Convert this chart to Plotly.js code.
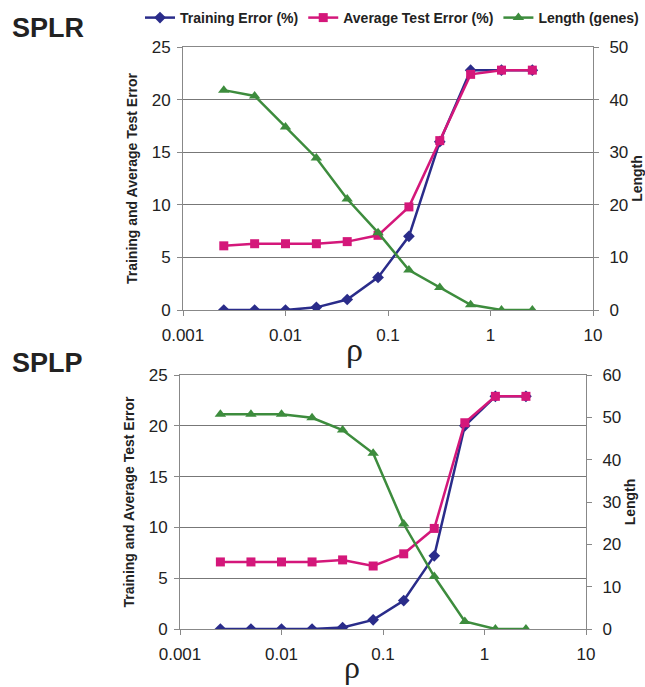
<!DOCTYPE html>
<html><head><meta charset="utf-8">
<script src="https://cdn.plot.ly/plotly-3.0.1.min.js"></script>
<style>html,body{margin:0;padding:0;background:#fff;}#chart{width:645px;height:687px;}</style>
</head><body><div id="chart"></div>
<script>
// rho values (shared by both panels)
const rho = [0.0025, 0.005, 0.01, 0.02, 0.04, 0.08, 0.16, 0.32, 0.64, 1.28, 2.56];
// SPLR panel
const splrTrain = [0, 0, 0, 0.25, 1.0, 3.1, 7.0, 16.0, 22.8, 22.8, 22.8];
const splrTest  = [6.1, 6.3, 6.3, 6.3, 6.5, 7.1, 9.8, 16.1, 22.4, 22.8, 22.8];
const splrLen   = [41.8, 40.7, 34.8, 28.9, 21.1, 14.7, 7.6, 4.3, 1.0, 0, 0];
// SPLP panel
const splpTrain = [0, 0, 0, 0, 0.15, 0.9, 2.8, 7.2, 20.0, 22.9, 22.9];
const splpTest  = [6.6, 6.6, 6.6, 6.6, 6.8, 6.2, 7.4, 9.9, 20.3, 22.9, 22.9];
const splpLen   = [50.7, 50.7, 50.7, 49.9, 47.0, 41.5, 24.8, 12.4, 1.8, 0, 0];
// labels
const seriesNames = ['Training Error (%)', 'Average Test Error (%)', 'Length (genes)'];
const xTickVals = [0.001, 0.01, 0.1, 1, 10];
const xTickText = ['0.001', '0.01', '0.1', '1', '10'];

const cBlue = '#2a2c8a', cPink = '#d4177a', cGreen = '#3d8c3d';
const FONT = 'Arial, "Liberation Sans", sans-serif';

function tr(x, y, name, color, symbol, size, xa, ya, show) {
  return {x: x, y: y, name: '<b>' + name + '</b>', type: 'scatter', mode: 'lines+markers',
    line: {color: color, width: 2.5}, marker: {color: color, symbol: symbol, size: size},
    xaxis: xa, yaxis: ya, showlegend: show};
}

const data = [
  tr(rho, splrTrain, seriesNames[0], cBlue, 'diamond', 9, 'x', 'y', true),
  tr(rho, splrTest, seriesNames[1], cPink, 'square', 9, 'x', 'y', true),
  tr(rho, splrLen, seriesNames[2], cGreen, 'triangle-up', 10, 'x', 'y2', true),
  tr(rho, splpTrain, seriesNames[0], cBlue, 'diamond', 9, 'x2', 'y3', false),
  tr(rho, splpTest, seriesNames[1], cPink, 'square', 9, 'x2', 'y3', false),
  tr(rho, splpLen, seriesNames[2], cGreen, 'triangle-up', 10, 'x2', 'y4', false)
];

const W = 645, H = 687;
const px = v => v / W, py = v => 1 - v / H;

function xax(dom, anchor) {
  return {domain: dom, anchor: anchor, type: 'log', range: [-3, 1],
    tickvals: xTickVals, ticktext: xTickText, ticks: 'outside', ticklen: 5, tickcolor: '#888',
    ticklabelstandoff: 5,
    showline: true, linecolor: '#888', linewidth: 1, mirror: true, showgrid: false, zeroline: false,
    tickfont: {size: 17, color: '#222', family: FONT}};
}
function yleft(dom, anchor) {
  return {domain: dom, anchor: anchor, range: [0, 25], dtick: 5, ticks: 'outside', ticklen: 5,
    tickcolor: '#888', ticklabelstandoff: 3, showline: true, linecolor: '#888', showgrid: true, gridcolor: '#777',
    gridwidth: 1, zeroline: false, tickfont: {size: 17, color: '#222', family: FONT},
    title: {text: '<b>Training and Average Test Error</b>', font: {size: 14, color: '#222', family: FONT}, standoff: 10}};
}
function yright(over, anchor, max, dtick) {
  return {overlaying: over, anchor: anchor, side: 'right', range: [0, max], dtick: dtick,
    ticks: 'outside', ticklen: 5, tickcolor: '#888', ticklabelstandoff: 7, showline: true, linecolor: '#888',
    showgrid: false, zeroline: false, tickfont: {size: 17, color: '#222', family: FONT},
    title: {text: '<b>Length</b>', font: {size: 14, color: '#222', family: FONT}, standoff: 4}};
}

const layout = {
  width: W, height: H, margin: {l: 0, r: 0, t: 0, b: 0},
  paper_bgcolor: '#fff', plot_bgcolor: '#fff',
  font: {family: FONT, color: '#222'},
  xaxis: xax([px(183), px(593)], 'y'),
  yaxis: yleft([py(310), py(47)], 'x'),
  yaxis2: yright('y', 'x', 50, 10),
  xaxis2: xax([px(180), px(586)], 'y3'),
  yaxis3: yleft([py(629), py(375)], 'x2'),
  yaxis4: yright('y3', 'x2', 60, 10),
  legend: {orientation: 'h', x: px(140), y: py(18), xanchor: 'left', yanchor: 'middle',
    font: {size: 14, color: '#222', family: FONT}, itemwidth: 30, tracegroupgap: 0, bgcolor: 'rgba(0,0,0,0)'},
  annotations: [
    {text: '<b>SPLR</b>', xref: 'paper', yref: 'paper', x: px(10), y: py(28), xanchor: 'left', yanchor: 'middle', showarrow: false,
     font: {size: 27, color: '#222', family: FONT}},
    {text: '<b>SPLP</b>', xref: 'paper', yref: 'paper', x: px(10), y: py(363), xanchor: 'left', yanchor: 'middle', showarrow: false,
     font: {size: 27, color: '#222', family: FONT}},
    {text: 'ρ', xref: 'paper', yref: 'paper', x: px(354), y: py(349), xanchor: 'center', yanchor: 'middle', showarrow: false,
     font: {size: 34, color: '#222', family: '"Liberation Serif", "Times New Roman", serif'}},
    {text: 'ρ', xref: 'paper', yref: 'paper', x: px(352), y: py(667), xanchor: 'center', yanchor: 'middle', showarrow: false,
     font: {size: 32, color: '#222', family: '"Liberation Serif", "Times New Roman", serif'}}
  ]
};

Plotly.newPlot('chart', data, layout, {displayModeBar: false, staticPlot: true});
</script></body></html>
